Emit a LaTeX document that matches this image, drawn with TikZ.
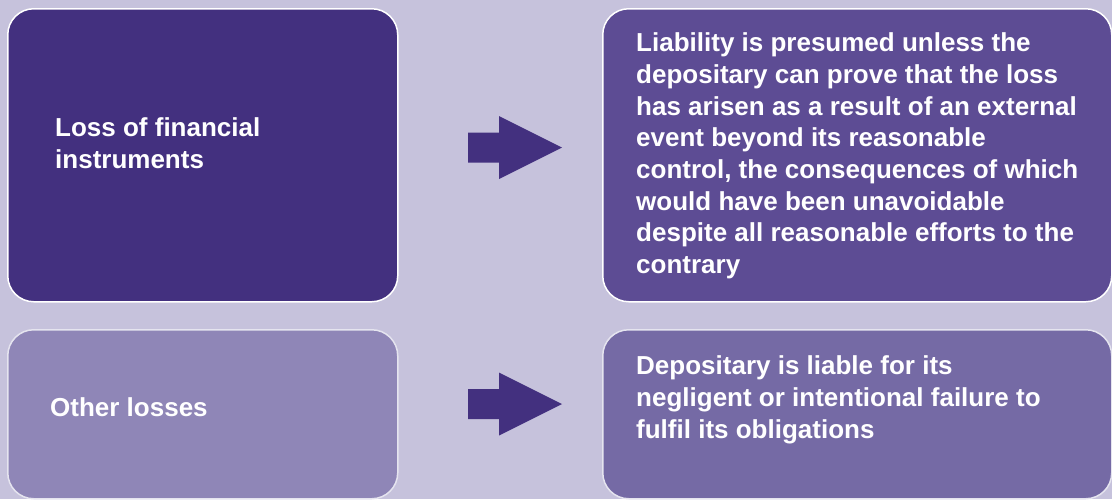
\documentclass[tikz,border=0pt]{standalone}
\usepackage{fontspec}
\setmainfont{Liberation Sans}
\usetikzlibrary{positioning}
\definecolor{bglilac}{HTML}{C6C2DC}
\definecolor{lossdark}{HTML}{43307F}
\definecolor{lossmid}{HTML}{5D4C94}
\definecolor{otherlight}{HTML}{8F86B7}
\definecolor{othermid}{HTML}{756AA5}
\tikzset{
  x=1pt, y=1pt,
  box/.style={rounded corners=26pt, draw=white, line width=1.5pt,
    inner sep=0pt, anchor=north west},
  softbox/.style={box, draw=white!55!bglilac},
  boxtext/.style={text=white, font=\bfseries\fontsize{26}{31.7}\selectfont,
    align=left, anchor=west, inner sep=0pt},
}

\begin{document}
\begin{tikzpicture}
  \fill[bglilac] (0,0) rectangle (1112,-499);
  \useasboundingbox (0,0) rectangle (1112,-499);
  % boxes
  \node[box, fill=lossdark, minimum width=390pt, minimum height=293pt] (lossbox) at (7,-8) {};
  \node[box, fill=lossmid, minimum width=509pt, minimum height=293pt] (presumedbox) at (602,-8) {};
  \node[softbox, fill=otherlight, minimum width=390pt, minimum height=169pt] (otherbox) at (7,-329) {};
  \node[softbox, fill=othermid, minimum width=509pt, minimum height=169pt] (liablebox) at (602,-329) {};
  % texts
  \node[boxtext] (losstext) at (55,-143) {Loss of financial\\instruments};
  \node[boxtext] (presumedtext) at (636,-156) {Liability is presumed unless the\\
    depositary can prove that the loss\\
    has arisen as a result of an external\\
    event beyond its reasonable\\
    control, the consequences of which\\
    would have been unavoidable\\
    despite all reasonable efforts to the\\
    contrary};
  \node[boxtext] (othertext) at (50,-407) {Other losses};
  \node[boxtext] (liabletext) at (636,-400) {Depositary is liable for its\\
    negligent or intentional failure to\\
    fulfil its obligations};
  % block arrows
  \foreach \ay in {147.5,404}
    \fill[lossdark, shift={(468,-\ay)}] (0,15) -- (31,15) -- (31,31.5) -- (94,0)
      -- (31,-31.5) -- (31,-15) -- (0,-15) -- cycle;
\end{tikzpicture}
\end{document}
